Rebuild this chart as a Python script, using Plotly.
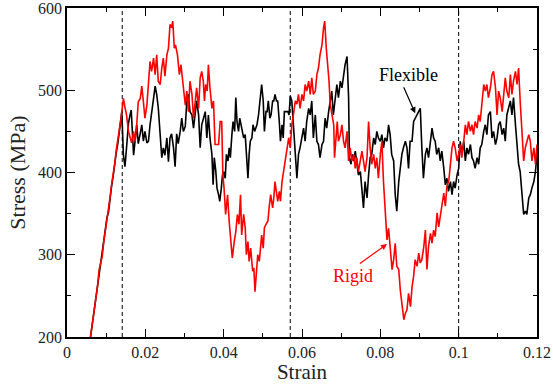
import plotly.graph_objects as go

# ---------------- data ----------------
flex_strain = [
    0.0058, 0.0062, 0.0066, 0.0070, 0.0074, 0.0078, 0.0082, 0.0086, 0.0090, 0.0094,
    0.0098, 0.0102, 0.0106, 0.0110, 0.0114, 0.0118, 0.0122, 0.0126, 0.0130, 0.0134,
    0.0138, 0.0140, 0.0144, 0.0148, 0.0152, 0.0157, 0.0161, 0.0164, 0.0170, 0.0174,
    0.0178, 0.0182, 0.0187, 0.0191, 0.0195, 0.0199, 0.0204, 0.0208, 0.0212, 0.0216,
    0.0221, 0.0225, 0.0229, 0.0233, 0.0238, 0.0242, 0.0246, 0.0250, 0.0255, 0.0259,
    0.0263, 0.0267, 0.0272, 0.0276, 0.0280, 0.0284, 0.0289, 0.0293, 0.0297, 0.0302,
    0.0306, 0.0310, 0.0314, 0.0319, 0.0323, 0.0327, 0.0331, 0.0336, 0.0340, 0.0344,
    0.0348, 0.0353, 0.0357, 0.0361, 0.0365, 0.0370, 0.0373, 0.0376, 0.0380, 0.0383,
    0.0387, 0.0390, 0.0394, 0.0397, 0.0400, 0.0404, 0.0407, 0.0411, 0.0414, 0.0417,
    0.0421, 0.0424, 0.0428, 0.0431, 0.0434, 0.0438, 0.0441, 0.0445, 0.0448, 0.0451,
    0.0455, 0.0459, 0.0462, 0.0465, 0.0468, 0.0472, 0.0475, 0.0479, 0.0482, 0.0485,
    0.0489, 0.0493, 0.0497, 0.0501, 0.0504, 0.0508, 0.0511, 0.0514, 0.0518, 0.0521,
    0.0525, 0.0528, 0.0531, 0.0535, 0.0538, 0.0542, 0.0545, 0.0549, 0.0552, 0.0555,
    0.0560, 0.0564, 0.0567, 0.0570, 0.0574, 0.0578, 0.0583, 0.0587, 0.0591, 0.0595,
    0.0600, 0.0604, 0.0608, 0.0612, 0.0617, 0.0621, 0.0625, 0.0629, 0.0634, 0.0638,
    0.0642, 0.0646, 0.0651, 0.0655, 0.0659, 0.0663, 0.0668, 0.0672, 0.0676, 0.0680,
    0.0685, 0.0689, 0.0693, 0.0698, 0.0702, 0.0706, 0.0710, 0.0715, 0.0719, 0.0721,
    0.0725, 0.0728, 0.0732, 0.0736, 0.0740, 0.0744, 0.0749, 0.0753, 0.0757, 0.0761,
    0.0766, 0.0770, 0.0774, 0.0778, 0.0783, 0.0787, 0.0791, 0.0795, 0.0800, 0.0804,
    0.0808, 0.0812, 0.0817, 0.0821, 0.0825, 0.0829, 0.0834, 0.0838, 0.0842, 0.0847,
    0.0851, 0.0855, 0.0859, 0.0864, 0.0868, 0.0872, 0.0876, 0.0881, 0.0885, 0.0889,
    0.0893, 0.0898, 0.0902, 0.0906, 0.0910, 0.0915, 0.0919, 0.0923, 0.0927, 0.0932,
    0.0936, 0.0940, 0.0944, 0.0949, 0.0953, 0.0957, 0.0962, 0.0966, 0.0970, 0.0974,
    0.0979, 0.0983, 0.0987, 0.0991, 0.0996, 0.1000, 0.1004, 0.1008, 0.1013, 0.1017,
    0.1021, 0.1025, 0.1030, 0.1034, 0.1038, 0.1042, 0.1047, 0.1051, 0.1055, 0.1059,
    0.1064, 0.1068, 0.1072, 0.1076, 0.1081, 0.1085, 0.1089, 0.1094, 0.1098, 0.1102,
    0.1106, 0.1111, 0.1115, 0.1119, 0.1123, 0.1128, 0.1132, 0.1136, 0.1140, 0.1145,
    0.1149, 0.1153, 0.1157, 0.1162, 0.1166, 0.1170, 0.1174, 0.1179, 0.1183, 0.1187,
    0.1192, 0.1196, 0.1200,
]
flex_stress = [
    193, 207, 218, 232, 246, 258, 274, 285, 301, 313,
    329, 345, 352, 372, 384, 396, 413, 425, 436, 452,
    462, 474, 421, 407, 430, 460, 470, 476, 421, 442,
    458, 435, 447, 458, 438, 450, 436, 438, 458, 470,
    490, 505, 495, 479, 450, 418, 430, 421, 442, 413,
    442, 447, 430, 407, 447, 435, 450, 466, 450, 456,
    487, 495, 474, 470, 454, 470, 487, 470, 430, 458,
    466, 474, 442, 470, 442, 422, 385, 418, 401, 381,
    373, 365, 381, 397, 401, 393, 422, 414, 430, 418,
    446, 462, 450, 491, 462, 450, 466, 458, 450, 442,
    446, 422, 393, 422, 438, 442, 458, 450, 454, 458,
    470, 491, 507, 487, 450, 474, 474, 487, 466, 470,
    487, 487, 495, 487, 487, 462, 438, 458, 442, 474,
    474, 474, 470, 493, 487, 462, 422, 393, 422, 430,
    442, 454, 438, 462, 478, 470, 487, 442, 470, 438,
    434, 418, 434, 438, 466, 454, 474, 487, 499, 470,
    495, 507, 491, 511, 503, 519, 531, 541, 491, 418,
    410, 422, 414, 426, 410, 397, 401, 373, 357, 389,
    369, 397, 418, 422, 442, 434, 450, 442, 438, 446,
    430, 442, 438, 458, 446, 422, 414, 373, 353, 389,
    405, 422, 430, 438, 430, 405, 438, 438, 462, 466,
    470, 474, 478, 430, 393, 422, 430, 418, 434, 454,
    442, 438, 422, 430, 414, 426, 405, 385, 393, 377,
    389, 373, 389, 381, 397, 405, 438, 422, 438, 414,
    430, 422, 434, 418, 414, 405, 418, 410, 430, 434,
    450, 458, 446, 470, 474, 442, 450, 434, 442, 458,
    462, 446, 454, 438, 470, 478, 487, 470, 491, 458,
    430, 410, 401, 373, 349, 353, 349, 369, 373, 381,
    389, 401, 422,
]

rigid_strain = [
    0.0058, 0.0062, 0.0066, 0.0070, 0.0074, 0.0078, 0.0082, 0.0086, 0.0090, 0.0094,
    0.0098, 0.0102, 0.0106, 0.0110, 0.0114, 0.0118, 0.0122, 0.0126, 0.0130, 0.0134,
    0.0138, 0.0140, 0.0144, 0.0148, 0.0152, 0.0157, 0.0161, 0.0165, 0.0170, 0.0174,
    0.0178, 0.0182, 0.0187, 0.0191, 0.0195, 0.0199, 0.0204, 0.0208, 0.0212, 0.0216,
    0.0221, 0.0225, 0.0229, 0.0233, 0.0238, 0.0242, 0.0246, 0.0250, 0.0255, 0.0259,
    0.0263, 0.0267, 0.0270, 0.0274, 0.0277, 0.0282, 0.0287, 0.0291, 0.0295, 0.0299,
    0.0302, 0.0306, 0.0310, 0.0314, 0.0319, 0.0323, 0.0327, 0.0331, 0.0336, 0.0340,
    0.0344, 0.0348, 0.0351, 0.0354, 0.0358, 0.0361, 0.0365, 0.0370, 0.0374, 0.0378,
    0.0382, 0.0387, 0.0391, 0.0395, 0.0398, 0.0401, 0.0405, 0.0410, 0.0414, 0.0418,
    0.0422, 0.0427, 0.0431, 0.0435, 0.0439, 0.0443, 0.0446, 0.0451, 0.0455, 0.0458,
    0.0462, 0.0465, 0.0469, 0.0474, 0.0477, 0.0480, 0.0484, 0.0487, 0.0491, 0.0494,
    0.0497, 0.0501, 0.0504, 0.0508, 0.0513, 0.0516, 0.0520, 0.0525, 0.0528, 0.0531,
    0.0535, 0.0538, 0.0542, 0.0545, 0.0549, 0.0553, 0.0557, 0.0561, 0.0566, 0.0570,
    0.0574, 0.0578, 0.0583, 0.0587, 0.0591, 0.0595, 0.0600, 0.0604, 0.0608, 0.0612,
    0.0617, 0.0621, 0.0625, 0.0629, 0.0634, 0.0638, 0.0642, 0.0646, 0.0651, 0.0655,
    0.0658, 0.0662, 0.0665, 0.0669, 0.0672, 0.0676, 0.0681, 0.0683, 0.0686, 0.0690,
    0.0693, 0.0698, 0.0702, 0.0706, 0.0710, 0.0715, 0.0719, 0.0723, 0.0727, 0.0732,
    0.0736, 0.0740, 0.0744, 0.0749, 0.0753, 0.0757, 0.0761, 0.0766, 0.0770, 0.0774,
    0.0778, 0.0783, 0.0787, 0.0791, 0.0795, 0.0800, 0.0804, 0.0808, 0.0813, 0.0817,
    0.0821, 0.0825, 0.0830, 0.0834, 0.0838, 0.0842, 0.0847, 0.0851, 0.0855, 0.0860,
    0.0864, 0.0868, 0.0872, 0.0877, 0.0881, 0.0885, 0.0889, 0.0894, 0.0898, 0.0902,
    0.0906, 0.0911, 0.0915, 0.0919, 0.0923, 0.0928, 0.0932, 0.0936, 0.0940, 0.0945,
    0.0949, 0.0953, 0.0957, 0.0962, 0.0966, 0.0970, 0.0975, 0.0979, 0.0983, 0.0987,
    0.0991, 0.0996, 0.1000, 0.1004, 0.1008, 0.1013, 0.1017, 0.1021, 0.1025, 0.1030,
    0.1034, 0.1038, 0.1042, 0.1047, 0.1051, 0.1055, 0.1059, 0.1064, 0.1068, 0.1072,
    0.1076, 0.1081, 0.1085, 0.1089, 0.1094, 0.1098, 0.1102, 0.1106, 0.1111, 0.1115,
    0.1119, 0.1123, 0.1128, 0.1132, 0.1136, 0.1140, 0.1145, 0.1149, 0.1153, 0.1157,
    0.1162, 0.1166, 0.1170, 0.1174, 0.1179, 0.1183, 0.1187, 0.1192, 0.1196, 0.1200,
]
rigid_stress = [
    193, 206, 221, 234, 245, 262, 282, 290, 298, 316,
    328, 344, 356, 370, 386, 398, 411, 428, 440, 450,
    466, 474, 490, 479, 470, 450, 442, 436, 450, 438,
    458, 486, 490, 505, 486, 466, 482, 511, 535, 523,
    539, 519, 543, 511, 507, 527, 539, 517, 543, 551,
    580, 576, 584, 551, 555, 543, 519, 531, 511, 490,
    482, 499, 474, 511, 495, 466, 490, 503, 478, 515,
    523, 511, 487, 507, 499, 531, 503, 478, 487, 434,
    434, 434, 462, 462, 397, 381, 349, 373, 341, 312,
    296, 316, 328, 349, 337, 373, 324, 349, 333, 300,
    316, 292, 308, 280, 284, 255, 284, 300, 292, 308,
    324, 308, 333, 337, 341, 357, 373, 357, 369, 389,
    373, 365, 377, 365, 389, 401, 418, 430, 442, 430,
    458, 470, 487, 483, 495, 478, 495, 487, 507, 499,
    511, 495, 515, 495, 499, 519, 527, 543, 555, 576,
    584, 551, 535, 511, 483, 470, 458, 418, 438, 462,
    438, 446, 458, 438, 430, 450, 414, 430, 414, 422,
    405, 418, 401, 418, 426, 414, 401, 418, 462, 430,
    410, 422, 405, 418, 393, 422, 438, 389, 350, 318,
    332, 310, 282, 294, 314, 286, 282, 257, 241, 221,
    229, 233, 253, 237, 261, 274, 294, 286, 302, 290,
    294, 310, 330, 282, 310, 326, 314, 330, 322, 351,
    334, 347, 363, 375, 359, 383, 391, 414, 430, 438,
    430, 414, 422, 434, 418, 438, 458, 446, 462, 450,
    458, 446, 462, 454, 470, 462, 487, 507, 499, 507,
    491, 503, 519, 523, 503, 470, 499, 491, 474, 491,
    515, 499, 491, 519, 495, 511, 523, 507, 527, 487,
    450, 414, 430, 438, 446, 438, 414, 430, 410, 434,
]

dashed_strains = [0.0141, 0.0570, 0.1000]

x_ticks = [0, 0.02, 0.04, 0.06, 0.08, 0.1, 0.12]
x_tick_labels = ["0", "0.02", "0.04", "0.06", "0.08", "0.1", "0.12"]
y_ticks = [200, 300, 400, 500, 600]
x_range = [0, 0.12]
y_range = [200, 600]

FONT = "Liberation Serif, Times New Roman, serif"

fig = go.Figure()
fig.add_trace(go.Scatter(x=flex_strain, y=flex_stress, mode="lines",
                         line=dict(color="black", width=1.6), name="Flexible",
                         showlegend=False))
fig.add_trace(go.Scatter(x=rigid_strain, y=rigid_stress, mode="lines",
                         line=dict(color="#ff0000", width=1.6), name="Rigid",
                         showlegend=False))
# helper trace so the mirrored (top/right) tick axes are drawn
fig.add_trace(go.Scatter(x=[None], y=[None], xaxis="x2", yaxis="y2",
                         showlegend=False, hoverinfo="skip"))

for xs in dashed_strains:
    fig.add_shape(type="line", xref="x", yref="paper", x0=xs, x1=xs, y0=0, y1=1,
                  line=dict(color="black", width=1, dash="4px,3px"), layer="below")

# annotations: text + arrow
fig.add_annotation(x=0.0871, y=519, text="Flexible", showarrow=False,
                   font=dict(family=FONT, size=18, color="black"))
fig.add_annotation(x=0.0889, y=472, ax=0.0858, ay=505.6, axref="x", ayref="y",
                   xref="x", yref="y", text="", showarrow=True,
                   arrowhead=2, arrowsize=1, arrowwidth=1.2, arrowcolor="black")
fig.add_annotation(x=0.0731, y=274.5, text="Rigid", showarrow=False,
                   font=dict(family=FONT, size=18, color="#ff0000"))
fig.add_annotation(x=0.0817, y=313, ax=0.0744, ay=288, axref="x", ayref="y",
                   xref="x", yref="y", text="", showarrow=True,
                   arrowhead=2, arrowsize=1, arrowwidth=1.2, arrowcolor="#ff0000")

axis_common = dict(
    showline=True, linecolor="black", linewidth=1.5,
    ticks="inside", ticklen=8, tickwidth=1, tickcolor="black",
    showgrid=False, zeroline=False, automargin=False,
    ticklabeloverflow="allow",
    tickfont=dict(family=FONT, size=16, color="#222"),
)

fig.update_layout(
    xaxis=dict(range=x_range, tickvals=x_ticks, ticktext=x_tick_labels,
               minor=dict(ticks="inside", ticklen=4, dtick=0.01, tickcolor="black", showgrid=False),
               title=dict(text="Strain", font=dict(family=FONT, size=21, color="#222"), standoff=1),
               **axis_common),
    yaxis=dict(range=y_range, tickvals=y_ticks,
               minor=dict(ticks="inside", ticklen=4, dtick=50, tickcolor="black", showgrid=False),
               title=dict(text="Stress (MPa)", font=dict(family=FONT, size=22, color="#222"), standoff=6),
               **axis_common),
    xaxis2=dict(range=x_range, tickvals=x_ticks, overlaying="x", side="top",
                showticklabels=False, anchor="y2",
                minor=dict(ticks="inside", ticklen=4, dtick=0.01, tickcolor="black", showgrid=False),
                **axis_common),
    yaxis2=dict(range=y_range, tickvals=y_ticks, overlaying="y", side="right",
                showticklabels=False, anchor="x2",
                minor=dict(ticks="inside", ticklen=4, dtick=50, tickcolor="black", showgrid=False),
                **axis_common),
    width=553, height=384,
    margin=dict(l=67, r=16, t=8, b=47),
    plot_bgcolor="white", paper_bgcolor="white",
    font=dict(family=FONT),
)

fig.write_html("out.html")
